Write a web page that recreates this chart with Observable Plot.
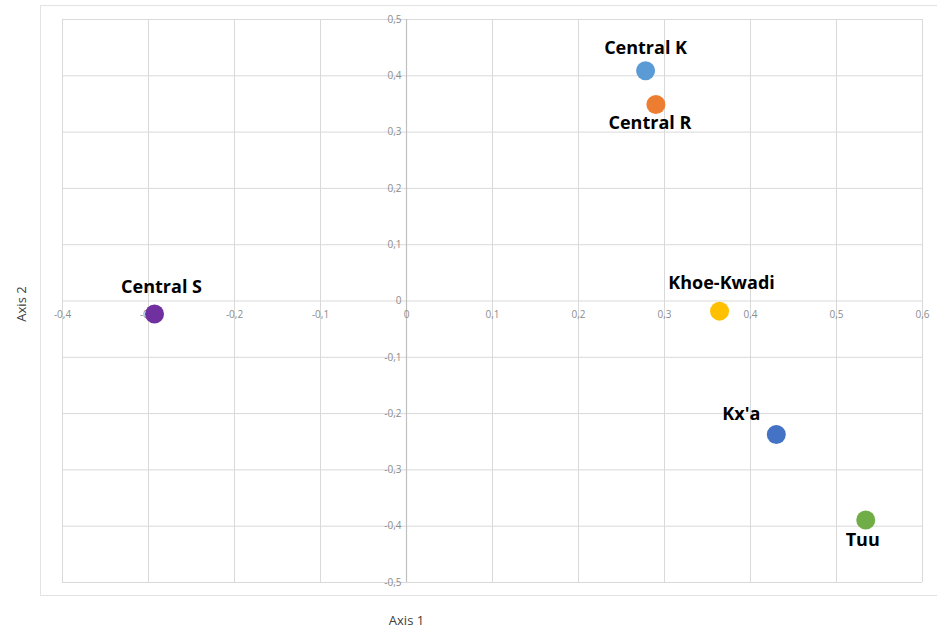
<!DOCTYPE html>
<html>
<head>
<meta charset="utf-8">
<script src="https://cdn.jsdelivr.net/npm/d3@7"></script>
<script src="https://cdn.jsdelivr.net/npm/@observablehq/plot@0.6"></script>
<style>
  html, body { margin: 0; padding: 0; background: #fff; }
  #wrap { position: relative; width: 937px; height: 631px; overflow: hidden; }
  #frame { position: absolute; left: 40px; top: 5px; width: 905px; height: 591px; border: 1px solid #e3e3e3; box-sizing: border-box; }
  #chart { position: absolute; left: 0; top: 0; }
</style>
</head>
<body>
<div id="wrap"><div id="frame"></div><div id="chart"></div></div>
<script>
const groups = ["Central K", "Central R", "Central S", "Khoe-Kwadi", "Kx'a", "Tuu"];
const axis1 = [0.278, 0.290, -0.293, 0.364, 0.430, 0.534];
const axis2 = [0.409, 0.349, -0.023, -0.018, -0.237, -0.389];
const colors = ["#5B9BD5", "#ED7D31", "#7030A0", "#FFC000", "#4472C4", "#70AD47"];
const labelDx = [0, -6, 7, 2, -35, -3];
const labelDy = [-22, 19, -27, -28, -20, 20];

const xTicks = [-0.4, -0.3, -0.2, -0.1, 0, 0.1, 0.2, 0.3, 0.4, 0.5, 0.6];
const xTickLabels = ["-0,4", "-0,3", "-0,2", "-0,1", "0", "0,1", "0,2", "0,3", "0,4", "0,5", "0,6"];
const yTicks = [0.5, 0.4, 0.3, 0.2, 0.1, 0, -0.1, -0.2, -0.3, -0.4, -0.5];
const yTickLabels = ["0,5", "0,4", "0,3", "0,2", "0,1", "0", "-0,1", "-0,2", "-0,3", "-0,4", "-0,5"];

const points = groups.map((g, i) => ({g, x: axis1[i], y: axis2[i], c: colors[i], dx: labelDx[i], dy: labelDy[i]}));
const xt = xTicks.map((v, i) => ({v, t: xTickLabels[i]}));
const yt = yTicks.map((v, i) => ({v, t: yTickLabels[i]}));

const font = "'Open Sans', 'Liberation Sans', sans-serif";

const plot = Plot.plot({
  width: 937,
  height: 631,
  marginLeft: 62,
  marginRight: 15,
  marginTop: 19,
  marginBottom: 49,
  style: {fontFamily: font, background: "transparent", overflow: "visible"},
  x: {domain: [-0.4, 0.6], axis: null},
  y: {domain: [-0.5, 0.5], axis: null},
  marks: [
    Plot.gridX(xTicks, {stroke: "#d9d9d9", strokeOpacity: 1}),
    Plot.gridY(yTicks, {stroke: "#d9d9d9", strokeOpacity: 1}),
    Plot.ruleX([0], {stroke: "#bfbfbf", strokeWidth: 1.2}),
    Plot.text(xt, {x: "v", y: 0, text: "t", dy: 14, fill: "#8c8c8c", fontSize: 10}),
    Plot.text(yt, {x: 0, y: "v", text: "t", dx: -5, textAnchor: "end", fill: "#8c8c8c", fontSize: 10}),
    Plot.dot(points, {x: "x", y: "y", r: 9.5, fill: "c", stroke: null}),
    ...points.map(p => Plot.text([p], {x: "x", y: "y", text: "g", dx: p.dx, dy: p.dy, fill: "#000", fontSize: 18, fontWeight: "bold"})),
    Plot.text(["Axis 1"], {frameAnchor: "bottom", x: 0, text: d => d, dy: 42, fill: "#404040", fontSize: 13}),
    Plot.text(["Axis 2"], {frameAnchor: "left", y: 0, text: d => d, dx: -41, dy: 3, rotate: -90, textAnchor: "middle", fill: "#404040", fontSize: 13})
  ]
});
document.getElementById("chart").appendChild(plot);
</script>
</body>
</html>
